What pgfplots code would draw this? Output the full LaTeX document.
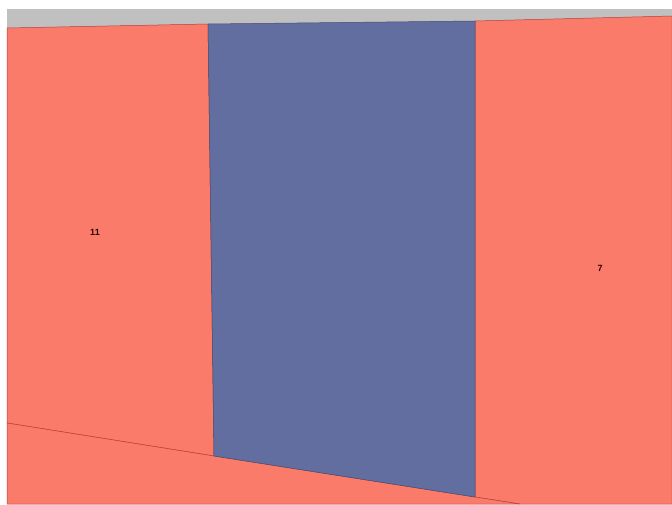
\documentclass[border=0pt]{standalone}
\usepackage{pgfplots}
\pgfplotsset{compat=1.18}
\usepackage{fontspec}
\setmainfont{Liberation Sans}
\definecolor{salmon}{HTML}{FA7B69}
\definecolor{bluep}{HTML}{626EA0}
\definecolor{greyb}{HTML}{C0C0C0}
\definecolor{edge}{HTML}{B8403A}
\begin{document}
\begin{tikzpicture}
\begin{axis}[x=1pt,y=1pt,y dir=reverse,xmin=0,xmax=672,ymin=0,ymax=504,
  hide axis,scale only axis,clip=true,axis line style={draw=none}]
\addplot[fill=white,draw=none] coordinates {(0,0) (672,0) (672,504) (0,504)} -- cycle;
\addplot[fill=greyb,draw=none] coordinates {(7,9) (672,9) (672,504) (7,504)} -- cycle;
\addplot[fill=salmon,draw=edge,line width=0.5pt] coordinates {(7,28) (208,24) (214,456) (7,423)} -- cycle;
\addplot[fill=salmon,draw=edge,line width=0.5pt] coordinates {(475,21) (672,16) (672,504) (520,504) (475,497)} -- cycle;
\addplot[fill=salmon,draw=edge,line width=0.5pt] coordinates {(7,423) (214,456) (475,497) (520,504) (7,504)} -- cycle;
\addplot[fill=bluep,draw=bluep!70!black,line width=0.5pt] coordinates {(208,24) (475,21) (475,497) (214,456)} -- cycle;
\node[font=\fontsize{9}{10}\selectfont\bfseries,text=black!80!red] at (axis cs:95,232) {11};
\node[font=\fontsize{9}{10}\selectfont\bfseries,text=black!80!red] at (axis cs:600,268) {7};
\coordinate (A) at (axis cs:0,504);
\coordinate (B) at (axis cs:672,0);
\end{axis}
\pgfresetboundingbox
\path (A) rectangle (B);
\end{tikzpicture}
\end{document}
